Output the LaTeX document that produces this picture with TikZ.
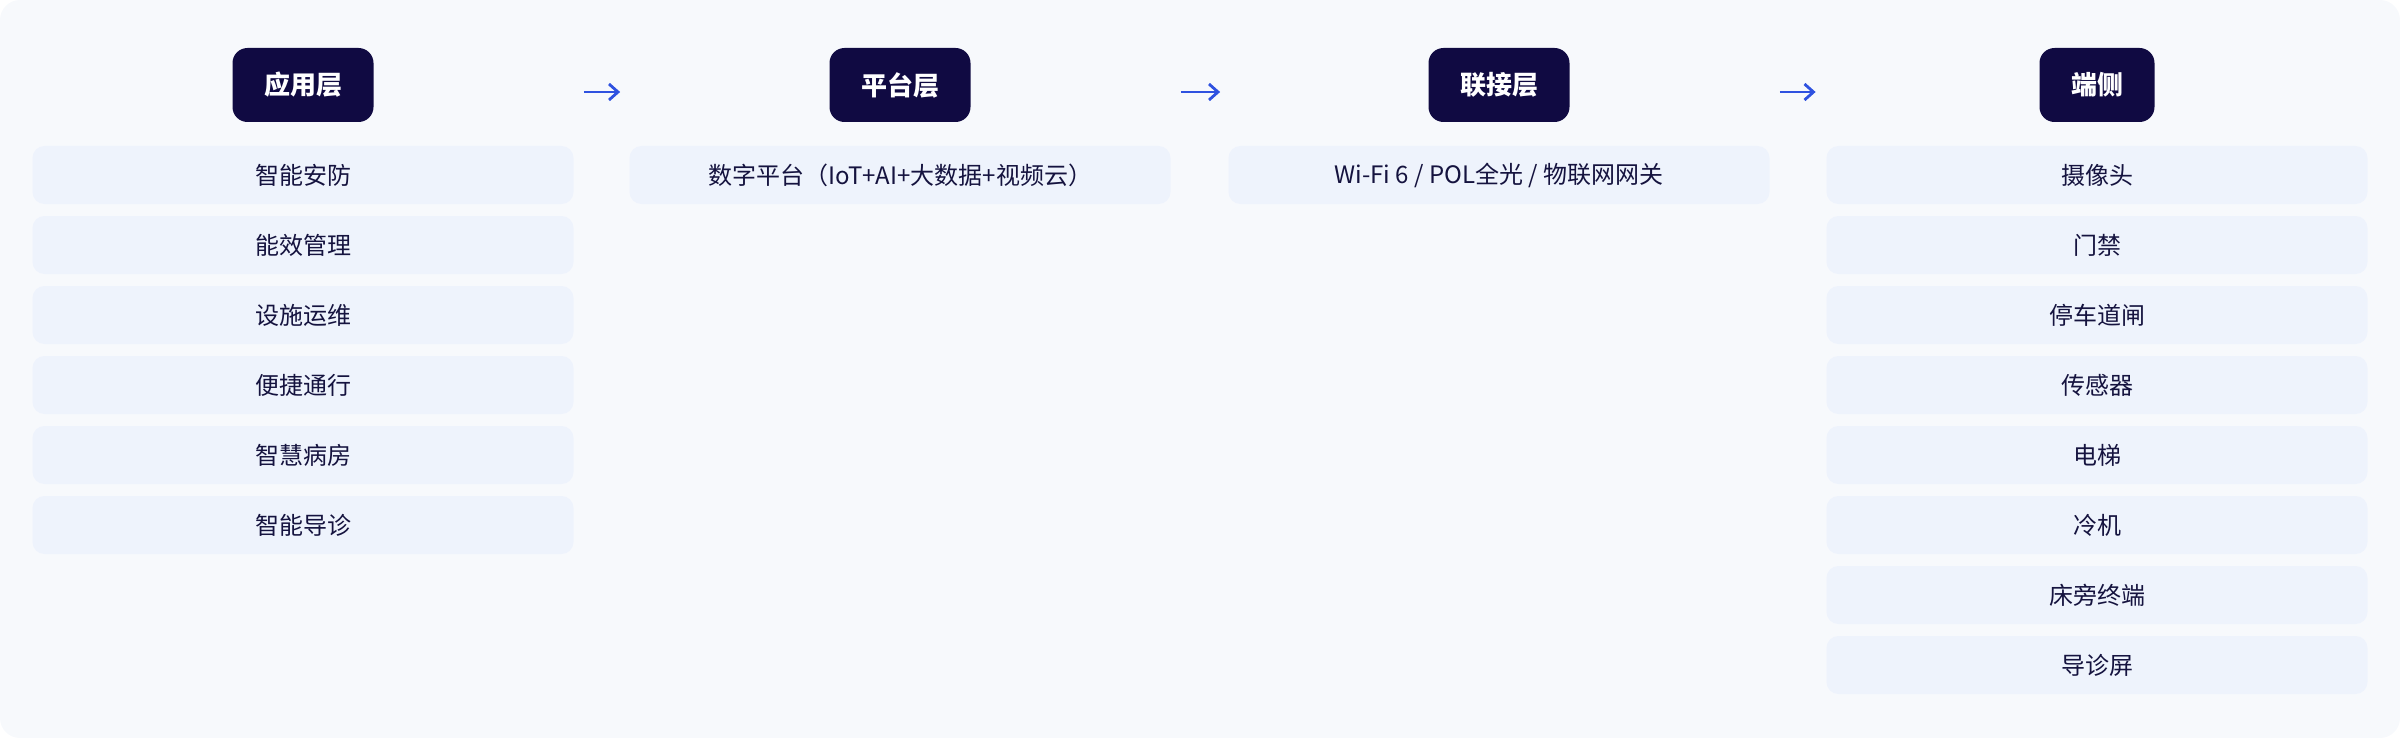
\documentclass[tikz,border=0pt]{standalone}
\usepackage{fontspec}
\setmainfont{Noto Sans CJK SC}
\usepackage{tikz}
\usetikzlibrary{arrows.meta}
\definecolor{panelbg}{HTML}{F7F9FC}
\definecolor{itemblue}{HTML}{EEF3FC}
\definecolor{headnavy}{HTML}{100A42}
\definecolor{inktext}{HTML}{15133F}
\definecolor{flowblue}{HTML}{2F52E0}
\tikzset{>={Straight Barb[length=4.5pt,width=8pt]},
  layer/.style={fill=headnavy, text=white, font=\fontsize{13}{13}\selectfont\bfseries,
    rounded corners=7.5pt, minimum height=37pt, inner xsep=15.75pt},
  item/.style={fill=itemblue, text=inktext, font=\fontsize{12}{12}\selectfont,
    rounded corners=6pt, minimum width=270.5pt, minimum height=29pt},
  flow/.style={->, flowblue, line width=1.4pt}}

\begin{document}
\begin{tikzpicture}[x=0.5pt,y=0.5pt]

    \useasboundingbox (0,0) rectangle (2400,-738);
    \fill [panelbg, rounded corners=10pt] (0,0) rectangle (2400,-738);

	% layer heads
	\node [layer] (app)  at (303,-85)  {应用层};
	\node [layer] (plat) at (900,-85)  {平台层};
	\node [layer] (conn) at (1499,-85) {联接层};
	\node [layer] (edge) at (2097,-85) {端侧};

	% items
	\foreach \t [count=\i] in {智能安防,能效管理,设施运维,便捷通行,智慧病房,智能导诊}
	  \node [item] (app\i) at (303,-105-70*\i) {\t};
	\node [item] (plat1) at (900,-175)  {数字平台（IoT+AI+大数据+视频云）};
	\node [item] (conn1) at (1499,-175) {Wi-Fi 6 / POL全光 / 物联网网关};
	\foreach \t [count=\i] in {摄像头,门禁,停车道闸,传感器,电梯,冷机,床旁终端,导诊屏}
	  \node [item] (edge\i) at (2097,-105-70*\i) {\t};

	% flow
	\draw [flow, shorten <=105pt, shorten >=104.5pt] ([yshift=-3.5pt]app.east) -- ([yshift=-3.5pt]plat.west);
	\draw [flow, shorten <=105pt, shorten >=104pt] ([yshift=-3.5pt]plat.east) -- ([yshift=-3.5pt]conn.west);
	\draw [flow, shorten <=105pt, shorten >=111.75pt] ([yshift=-3.5pt]conn.east) -- ([yshift=-3.5pt]edge.west);

\end{tikzpicture}
\end{document}
